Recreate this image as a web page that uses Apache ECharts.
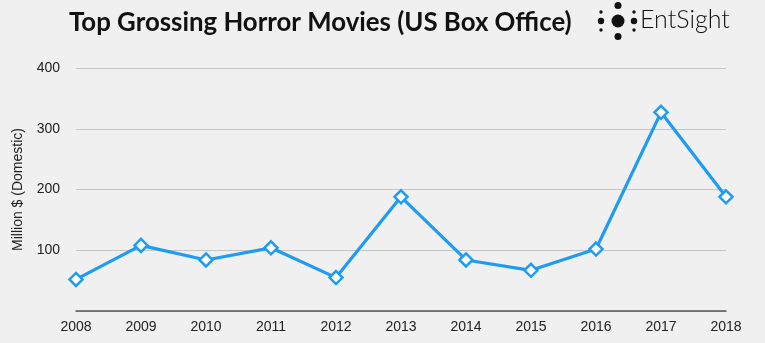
<!DOCTYPE html>
<html>
<head>
<meta charset="utf-8">
<script src="https://cdn.jsdelivr.net/npm/echarts@6/dist/echarts.min.js"></script>
<style>
  html, body { margin: 0; padding: 0; background: #f0f0f0; }
  #chart { width: 765px; height: 343px; }
</style>
</head>
<body>
<div id="chart"></div>
<script>
// Top grossing horror film per year, US domestic box office (million $)
const years = ['2008', '2009', '2010', '2011', '2012', '2013', '2014', '2015', '2016', '2017', '2018'];
const grossMillions = [52, 108, 84, 104, 55, 188, 84, 67, 102, 327, 188];
const yTicks = [0, 100, 200, 300, 400];

const chart = echarts.init(document.getElementById('chart'));

const blue = '#1f9cf2';
const ink = '#111';

chart.setOption({
  backgroundColor: '#f0f0f0',
  animation: false,
  title: {
    text: 'Top Grossing Horror Movies (US Box Office)',
    left: 64,
    top: 5,
    textStyle: {
      fontFamily: 'Lato',
      fontWeight: 'bold',
      fontSize: 25.8,
      color: ink
    }
  },
  graphic: [
    // EntSight logo mark
    { type: 'circle', shape: { cx: 618, cy: 21, r: 6.5 }, style: { fill: ink } },
    { type: 'circle', shape: { cx: 618, cy: 5.5, r: 3.5 }, style: { fill: ink } },
    { type: 'circle', shape: { cx: 618, cy: 36.5, r: 3.5 }, style: { fill: ink } },
    { type: 'circle', shape: { cx: 601, cy: 21, r: 3.2 }, style: { fill: ink } },
    { type: 'circle', shape: { cx: 634, cy: 21, r: 3.2 }, style: { fill: ink } },
    { type: 'circle', shape: { cx: 601, cy: 12, r: 1.7 }, style: { fill: ink } },
    { type: 'circle', shape: { cx: 601, cy: 30, r: 1.7 }, style: { fill: ink } },
    { type: 'circle', shape: { cx: 634, cy: 12, r: 1.7 }, style: { fill: ink } },
    { type: 'circle', shape: { cx: 634, cy: 30, r: 1.7 }, style: { fill: ink } },
    {
      type: 'text',
      left: 640,
      top: 7,
      style: {
        text: 'EntSight',
        fontFamily: 'Lato',
        fontWeight: 300,
        fontSize: 25,
        fill: ink
      }
    }
  ],
  grid: { left: 76, right: 39, top: 68, bottom: 32 },
  xAxis: {
    type: 'category',
    data: years,
    boundaryGap: false,
    axisLine: { show: true, lineStyle: { color: '#555', width: 1.5 } },
    axisTick: { show: false },
    axisLabel: {
      color: '#222',
      fontFamily: 'Liberation Sans',
      fontSize: 14,
      margin: 9
    },
    splitLine: { show: false }
  },
  yAxis: {
    type: 'value',
    min: yTicks[0],
    max: yTicks[yTicks.length - 1],
    interval: 100,
    name: 'Million $ (Domestic)',
    nameLocation: 'middle',
    nameGap: 51,
    nameRotate: 90,
    nameTextStyle: { color: '#222', fontFamily: 'Liberation Sans', fontSize: 14 },
    axisLine: { show: false },
    axisTick: { show: false },
    axisLabel: {
      color: '#222',
      fontFamily: 'Liberation Sans',
      fontSize: 14,
      margin: 16,
      formatter: v => (v === 0 ? '' : String(v))
    },
    splitLine: { lineStyle: { color: '#c6c6c6', width: 1 } }
  },
  series: [{
    type: 'line',
    data: grossMillions,
    symbol: 'diamond',
    symbolSize: 13,
    lineStyle: { color: blue, width: 3.2 },
    itemStyle: { color: '#ffffff', borderColor: blue, borderWidth: 2.5 }
  }]
});
</script>
</body>
</html>
